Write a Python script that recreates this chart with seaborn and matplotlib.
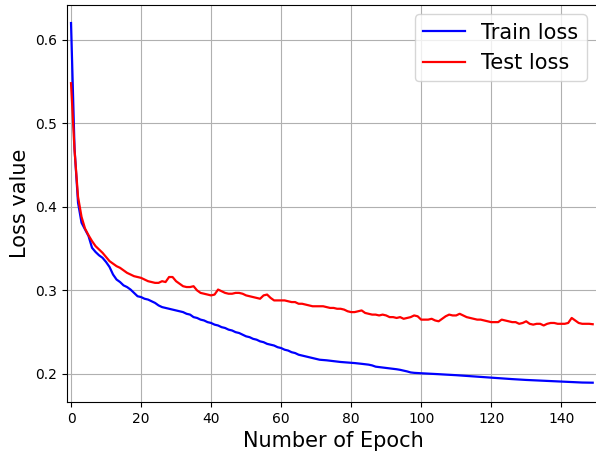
import matplotlib
matplotlib.use("Agg")
import matplotlib.pyplot as plt
import seaborn as sns
import pandas as pd
import numpy as np

train_loss = [
    0.620, 0.470, 0.405, 0.381, 0.373, 0.365, 0.351, 0.346, 0.342, 0.339,
    0.334, 0.328, 0.319, 0.313, 0.310, 0.306, 0.304, 0.301, 0.297, 0.293,
    0.292, 0.290, 0.289, 0.287, 0.285, 0.282, 0.280, 0.279, 0.278, 0.277,
    0.276, 0.275, 0.274, 0.272, 0.271, 0.268, 0.267, 0.265, 0.264, 0.262,
    0.261, 0.259, 0.258, 0.256, 0.255, 0.253, 0.252, 0.250, 0.249, 0.247,
    0.245, 0.244, 0.242, 0.241, 0.239, 0.238, 0.236, 0.235, 0.234, 0.232,
    0.231, 0.229, 0.228, 0.226, 0.225, 0.223, 0.222, 0.221, 0.220, 0.219,
    0.218, 0.217, 0.2167, 0.2163, 0.2158, 0.2153, 0.2148, 0.2143, 0.2140, 0.2137,
    0.2134, 0.2130, 0.2126, 0.2121, 0.2116, 0.2111, 0.2102, 0.2087, 0.2082, 0.2078,
    0.2073, 0.2068, 0.2063, 0.2056, 0.2049, 0.2040, 0.2030, 0.2018, 0.2013, 0.2010,
    0.2008, 0.2006, 0.2003, 0.2001, 0.1999, 0.1997, 0.1994, 0.1992, 0.1990, 0.1988,
    0.1985, 0.1982, 0.1980, 0.1977, 0.1974, 0.1971, 0.1968, 0.1965, 0.1962, 0.1958,
    0.1955, 0.1952, 0.1949, 0.1946, 0.1944, 0.1941, 0.1938, 0.1936, 0.1933, 0.1930,
    0.1928, 0.1926, 0.1923, 0.1921, 0.1919, 0.1917, 0.1915, 0.1913, 0.1911, 0.1909,
    0.1907, 0.1905, 0.1903, 0.1901, 0.1899, 0.1898, 0.1897, 0.1896, 0.1896, 0.1895,
]

test_loss = [
    0.548, 0.468, 0.412, 0.388, 0.374, 0.366, 0.359, 0.353, 0.349, 0.345,
    0.340, 0.335, 0.332, 0.329, 0.327, 0.324, 0.321, 0.319, 0.317, 0.316,
    0.315, 0.313, 0.311, 0.310, 0.309, 0.309, 0.311, 0.310, 0.316, 0.316,
    0.311, 0.308, 0.305, 0.304, 0.304, 0.305, 0.300, 0.297, 0.296, 0.295,
    0.294, 0.295, 0.301, 0.299, 0.297, 0.296, 0.296, 0.297, 0.297, 0.296,
    0.294, 0.293, 0.292, 0.291, 0.290, 0.294, 0.295, 0.291, 0.288, 0.288,
    0.288, 0.288, 0.287, 0.286, 0.286, 0.284, 0.284, 0.283, 0.282, 0.281,
    0.281, 0.281, 0.281, 0.280, 0.279, 0.279, 0.278, 0.278, 0.277, 0.275,
    0.274, 0.274, 0.275, 0.276, 0.273, 0.272, 0.271, 0.271, 0.270, 0.271,
    0.270, 0.268, 0.268, 0.267, 0.268, 0.266, 0.267, 0.268, 0.270, 0.269,
    0.265, 0.265, 0.265, 0.266, 0.264, 0.263, 0.266, 0.269, 0.271, 0.270,
    0.270, 0.272, 0.270, 0.268, 0.267, 0.266, 0.265, 0.265, 0.264, 0.263,
    0.262, 0.262, 0.262, 0.265, 0.264, 0.263, 0.262, 0.262, 0.260, 0.261,
    0.263, 0.260, 0.259, 0.260, 0.260, 0.258, 0.260, 0.261, 0.261, 0.260,
    0.260, 0.260, 0.261, 0.267, 0.264, 0.261, 0.260, 0.260, 0.260, 0.2595,
]

epochs = list(range(len(train_loss)))
series_names = ["Train loss", "Test loss"]
series_colors = ["blue", "red"]

df = pd.DataFrame({
    "epoch": epochs * 2,
    "loss": train_loss + test_loss,
    "series": [series_names[0]] * len(train_loss) + [series_names[1]] * len(test_loss),
})

plt.rcParams["font.family"] = ["DejaVu Sans"]
fig = plt.figure(figsize=(5.96, 4.57), dpi=100)
ax = fig.add_axes([67 / 596, 55 / 457, (599 - 67) / 596, 397 / 457])

sns.lineplot(data=df, x="epoch", y="loss", hue="series",
             palette=dict(zip(series_names, series_colors)),
             linewidth=1.6, ax=ax)

ax.set_xlim(-1.15, 150.8)
ax.set_ylim(0.1664, 0.6416)
ax.set_xticks([0, 20, 40, 60, 80, 100, 120, 140])
ax.set_yticks([0.2, 0.3, 0.4, 0.5, 0.6])
ax.grid(True, color="#b0b0b0", linewidth=0.8)
ax.set_axisbelow(True)
ax.tick_params(labelsize=10)
ax.set_xlabel("Number of Epoch", fontsize=15)
ax.set_ylabel("Loss value", fontsize=15)

ax.legend(loc="upper right", bbox_to_anchor=(1.0, 452 / 457),
          bbox_transform=fig.transFigure, fontsize=15, title=None,
          borderaxespad=0.45)

fig.savefig("out.png", dpi=100)
